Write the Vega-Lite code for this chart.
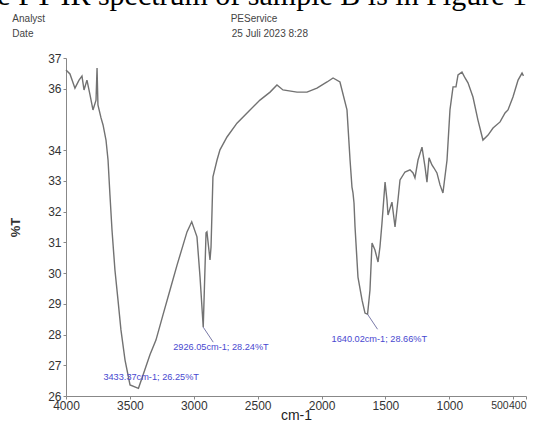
{
  "$schema": "https://vega.github.io/schema/vega-lite/v6.json",
  "width": 460,
  "height": 338,
  "autosize": {"type": "none"},
  "padding": {"left": 66, "top": 58, "right": 8, "bottom": 32},
  "background": "white",
  "config": {"view": {"stroke": null}},
  "title": {
    "text": "The FT-IR spectrum of sample B is in Figure 1",
    "subtitle": ["\u200b\u2003\u2003\u2003\u2003\u00a0\u00a0\u00a0Analyst\u2003\u2003\u2003\u2003\u2003\u2003\u2003\u2003\u2003\u2003\u2003\u2003\u2003\u2003\u2003\u2003\u2003\u2003\u00a0\u00a0PEService", "\u200b\u2003\u2003\u2003\u2003\u00a0\u00a0\u00a0Date\u2003\u2003\u2003\u2003\u2003\u2003\u2003\u2003\u2003\u2003\u2003\u2003\u2003\u2003\u2003\u2003\u2003\u2003\u2003\u00a0\u00a0\u00a025 Juli 2023 8:28"],
    "anchor": "start",
    "frame": "group",
    "orient": "top",
    "dx": -102,
    "offset": 13.5,
    "font": "Liberation Serif",
    "fontSize": 30,
    "fontWeight": "normal",
    "color": "#000000",
    "subtitleFont": "Liberation Sans",
    "subtitleFontSize": 10,
    "subtitleColor": "#444444",
    "subtitleLineHeight": 15,
    "subtitlePadding": 3
  },
  "datasets": {
    "spectrum": [
      {"wn": 4000, "T": 36.61}, {"wn": 3969, "T": 36.48}, {"wn": 3930, "T": 36.02},
      {"wn": 3898, "T": 36.28}, {"wn": 3875, "T": 36.41}, {"wn": 3859, "T": 35.96},
      {"wn": 3836, "T": 36.28}, {"wn": 3812, "T": 35.80}, {"wn": 3789, "T": 35.31},
      {"wn": 3765, "T": 35.63}, {"wn": 3757, "T": 36.67}, {"wn": 3750, "T": 35.47},
      {"wn": 3726, "T": 35.05}, {"wn": 3710, "T": 34.82}, {"wn": 3687, "T": 34.33},
      {"wn": 3671, "T": 33.68}, {"wn": 3656, "T": 32.54}, {"wn": 3640, "T": 31.40},
      {"wn": 3617, "T": 30.10}, {"wn": 3593, "T": 29.12}, {"wn": 3570, "T": 28.15},
      {"wn": 3538, "T": 27.17}, {"wn": 3499, "T": 26.36}, {"wn": 3433, "T": 26.25},
      {"wn": 3397, "T": 26.68}, {"wn": 3343, "T": 27.34}, {"wn": 3296, "T": 27.82},
      {"wn": 3241, "T": 28.64}, {"wn": 3186, "T": 29.45}, {"wn": 3131, "T": 30.26},
      {"wn": 3084, "T": 30.91}, {"wn": 3053, "T": 31.34}, {"wn": 3016, "T": 31.67},
      {"wn": 2975, "T": 31.18}, {"wn": 2951, "T": 29.87}, {"wn": 2926, "T": 28.24},
      {"wn": 2904, "T": 31.31}, {"wn": 2897, "T": 31.34}, {"wn": 2873, "T": 30.43},
      {"wn": 2865, "T": 30.85}, {"wn": 2857, "T": 32.05}, {"wn": 2850, "T": 33.13},
      {"wn": 2818, "T": 33.68}, {"wn": 2795, "T": 34.01}, {"wn": 2740, "T": 34.43},
      {"wn": 2662, "T": 34.88}, {"wn": 2560, "T": 35.31}, {"wn": 2482, "T": 35.63},
      {"wn": 2403, "T": 35.89}, {"wn": 2349, "T": 36.12}, {"wn": 2302, "T": 35.96},
      {"wn": 2192, "T": 35.89}, {"wn": 2114, "T": 35.89}, {"wn": 2036, "T": 36.02},
      {"wn": 1957, "T": 36.22}, {"wn": 1910, "T": 36.35}, {"wn": 1856, "T": 36.22},
      {"wn": 1801, "T": 35.31}, {"wn": 1777, "T": 33.68}, {"wn": 1762, "T": 32.80},
      {"wn": 1754, "T": 32.61}, {"wn": 1746, "T": 32.28}, {"wn": 1738, "T": 31.50},
      {"wn": 1715, "T": 29.87}, {"wn": 1683, "T": 29.12}, {"wn": 1660, "T": 28.70},
      {"wn": 1640, "T": 28.66}, {"wn": 1621, "T": 29.45}, {"wn": 1605, "T": 30.98},
      {"wn": 1582, "T": 30.75}, {"wn": 1558, "T": 30.36}, {"wn": 1543, "T": 30.85},
      {"wn": 1527, "T": 31.63}, {"wn": 1503, "T": 32.96}, {"wn": 1488, "T": 32.38},
      {"wn": 1480, "T": 31.89}, {"wn": 1449, "T": 32.31}, {"wn": 1425, "T": 31.50},
      {"wn": 1402, "T": 32.38}, {"wn": 1386, "T": 33.03}, {"wn": 1347, "T": 33.29},
      {"wn": 1308, "T": 33.36}, {"wn": 1284, "T": 33.26}, {"wn": 1269, "T": 33.10},
      {"wn": 1245, "T": 33.68}, {"wn": 1214, "T": 34.10}, {"wn": 1190, "T": 33.45},
      {"wn": 1175, "T": 32.96}, {"wn": 1159, "T": 33.75}, {"wn": 1136, "T": 33.52},
      {"wn": 1120, "T": 33.42}, {"wn": 1097, "T": 33.26}, {"wn": 1073, "T": 32.87},
      {"wn": 1050, "T": 32.61}, {"wn": 1018, "T": 33.68}, {"wn": 995, "T": 35.31},
      {"wn": 971, "T": 36.06}, {"wn": 948, "T": 36.06}, {"wn": 932, "T": 36.45},
      {"wn": 901, "T": 36.54}, {"wn": 877, "T": 36.35}, {"wn": 854, "T": 36.19},
      {"wn": 815, "T": 35.73}, {"wn": 776, "T": 34.98}, {"wn": 737, "T": 34.33},
      {"wn": 697, "T": 34.49}, {"wn": 658, "T": 34.72}, {"wn": 603, "T": 34.92},
      {"wn": 564, "T": 35.21}, {"wn": 541, "T": 35.31}, {"wn": 502, "T": 35.73},
      {"wn": 462, "T": 36.28}, {"wn": 431, "T": 36.51}, {"wn": 420, "T": 36.42}
    ],
    "peaks": [
      {"wn": 3433.37, "T": 26.25, "label": "3433.37cm-1; 26.25%T"},
      {"wn": 2926.05, "T": 28.24, "label": "2926.05cm-1; 28.24%T"},
      {"wn": 1640.02, "T": 28.66, "label": "1640.02cm-1; 28.66%T"}
    ]
  },
  "encoding": {
    "x": {
      "field": "wn", "type": "quantitative",
      "scale": {"domain": [400, 4000], "reverse": true, "nice": false, "zero": false},
      "axis": {
        "title": "cm-1", "values": [4000, 3500, 3000, 2500, 2000, 1500, 1000, 500, 400],
        "format": "d",
        "labelOverlap": false, "labelFlush": false, "grid": false,
        "labelAlign": {"expr": "datum.value <= 500 ? 'right' : 'center'"},
        "labelFontSize": {"expr": "datum.value <= 500 ? 10.5 : 12"},
        "labelOffset": {"expr": "datum.value == 500 ? -5 : 0"},
        "labelFont": "Liberation Sans", "labelColor": "#333333",
        "titleFont": "Liberation Sans", "titleFontSize": 14, "titleFontWeight": "normal", "titleColor": "#222222",
        "titlePadding": -3, "tickSize": 3, "labelPadding": 1,
        "domainColor": "#888888", "tickColor": "#888888"
      }
    },
    "y": {
      "field": "T", "type": "quantitative",
      "scale": {"domain": [26, 37], "nice": false, "zero": false},
      "axis": {
        "title": "%T", "values": [26, 27, 28, 29, 30, 31, 32, 33, 34, 36, 37],
        "format": "d",
        "labelOverlap": false, "labelFlush": false, "grid": false,
        "labelFont": "Liberation Sans", "labelFontSize": 12, "labelColor": "#333333",
        "titleFont": "Liberation Sans", "titleFontSize": 13, "titleFontWeight": "bold", "titleColor": "#333333",
        "titlePadding": 25, "tickSize": 3, "labelPadding": 2,
        "domainColor": "#888888", "tickColor": "#888888"
      }
    }
  },
  "layer": [
    {
      "data": {"name": "spectrum"},
      "mark": {"type": "line", "stroke": "#727272", "strokeWidth": 1.4}
    },
    {
      "data": {"name": "peaks"},
      "transform": [{"filter": "datum.wn < 3000"}],
      "mark": {"type": "rule", "stroke": "#7a7aa8", "strokeWidth": 1, "x2Offset": 10, "y2Offset": 15},
      "encoding": {
        "x2": {"field": "wn"},
        "y2": {"field": "T"}
      }
    },
    {
      "data": {"name": "peaks"},
      "transform": [{"filter": "datum.wn > 3000"}],
      "mark": {"type": "text", "align": "left", "baseline": "middle", "dx": -35, "dy": -11, "font": "Liberation Sans", "fontSize": 9.2, "color": "#4848d0"},
      "encoding": {"text": {"field": "label"}}
    },
    {
      "data": {"name": "peaks"},
      "transform": [{"filter": "datum.wn > 2000 && datum.wn < 3000"}],
      "mark": {"type": "text", "align": "left", "baseline": "middle", "dx": -30, "dy": 20, "font": "Liberation Sans", "fontSize": 9.2, "color": "#4848d0"},
      "encoding": {"text": {"field": "label"}}
    },
    {
      "data": {"name": "peaks"},
      "transform": [{"filter": "datum.wn < 2000"}],
      "mark": {"type": "text", "align": "left", "baseline": "middle", "dx": -36, "dy": 25, "font": "Liberation Sans", "fontSize": 9.2, "color": "#4848d0"},
      "encoding": {"text": {"field": "label"}}
    }
  ]
}
